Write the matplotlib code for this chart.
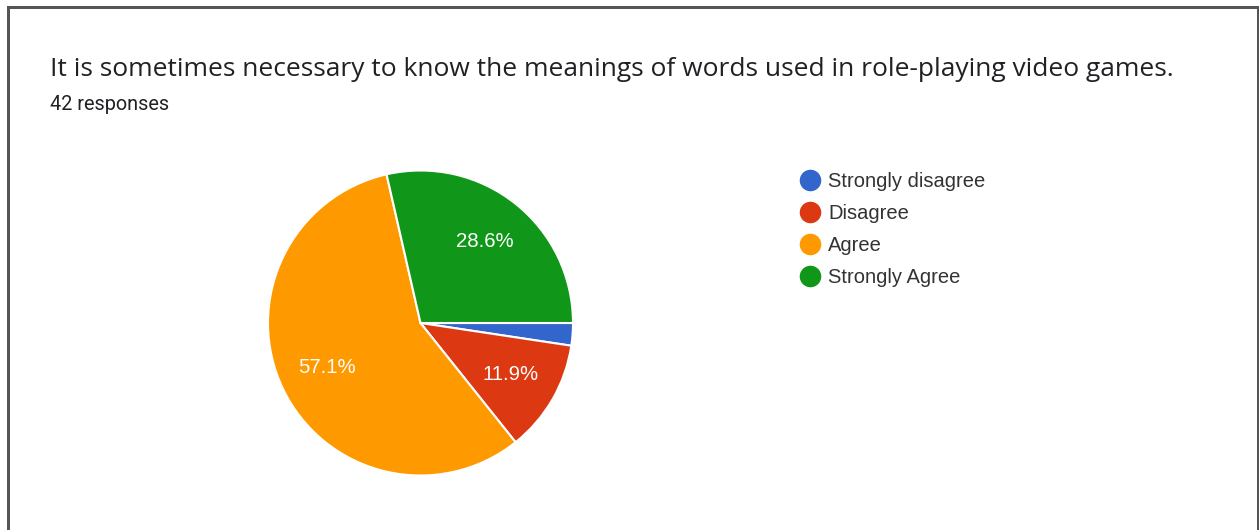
import matplotlib.pyplot as plt
from matplotlib.lines import Line2D
from matplotlib.patches import Rectangle

# Respostas do formulário (42 no total)
categorias = ["Strongly disagree", "Disagree", "Agree", "Strongly Agree"]
respostas = [1, 5, 24, 12]
cores = ["#3366cc", "#dc3912", "#ff9900", "#109618"]

titulo = "It is sometimes necessary to know the meanings of words used in role-playing video games."
subtitulo = "42 responses"

W, H = 1259, 530
fig = plt.figure(figsize=(W / 100, H / 100), dpi=100)
fig.patch.set_facecolor("white")

# moldura cinza (sem a borda de baixo)
for x0, y0, w, h in [(7, 0, 2.5, 524), (7, 521.5, 1252, 2.5), (1256.5, 0, 2.5, 524)]:
    fig.patches.append(
        Rectangle((x0 / W, y0 / H), w / W, h / H, transform=fig.transFigure,
                  facecolor="#555555", edgecolor="none")
    )

fig.text(50 / W, 1 - 76 / H, titulo, fontsize=19, color="#202124",
         family="Open Sans", va="baseline", ha="left")
fig.text(50 / W, 1 - 110 / H, subtitulo, fontsize=14.3, color="#202124",
         family="Roboto", va="baseline", ha="left")

# eixo do gráfico de pizza: centro (420.5, 323) px, raio 152.5 px
cx, cy, r = 420.5, 323, 152.5
ax = fig.add_axes([(cx - r) / W, (H - cy - r) / H, 2 * r / W, 2 * r / H])


def rotulo(p):
    return f"{p:.1f}%" if p > 5 else ""


wedges, textos, autotextos = ax.pie(
    respostas,
    colors=cores,
    startangle=0,
    counterclock=False,
    autopct=rotulo,
    pctdistance=0.68,
    radius=1,
    wedgeprops=dict(edgecolor="white", linewidth=1.5),
    textprops=dict(color="white", fontsize=14.7, family="Liberation Sans"),
)
ax.set_xlim(-1, 1)
ax.set_ylim(-1, 1)
ax.set_aspect("equal")
ax.axis("off")

handles = [
    Line2D([], [], marker="o", linestyle="none", markersize=14.5,
           markerfacecolor=c, markeredgecolor=c)
    for c in cores
]
leg = fig.legend(
    handles, categorias,
    loc="upper left",
    bbox_to_anchor=(798 / W, 1 - 172 / H),
    frameon=False,
    prop=dict(family="Liberation Sans", size=14.5),
    labelspacing=0.64,
    handletextpad=0.3,
    handlelength=1.2,
    borderpad=0,
    borderaxespad=0,
)
for t in leg.get_texts():
    t.set_color("#333333")

fig.savefig("out.png", dpi=100)
